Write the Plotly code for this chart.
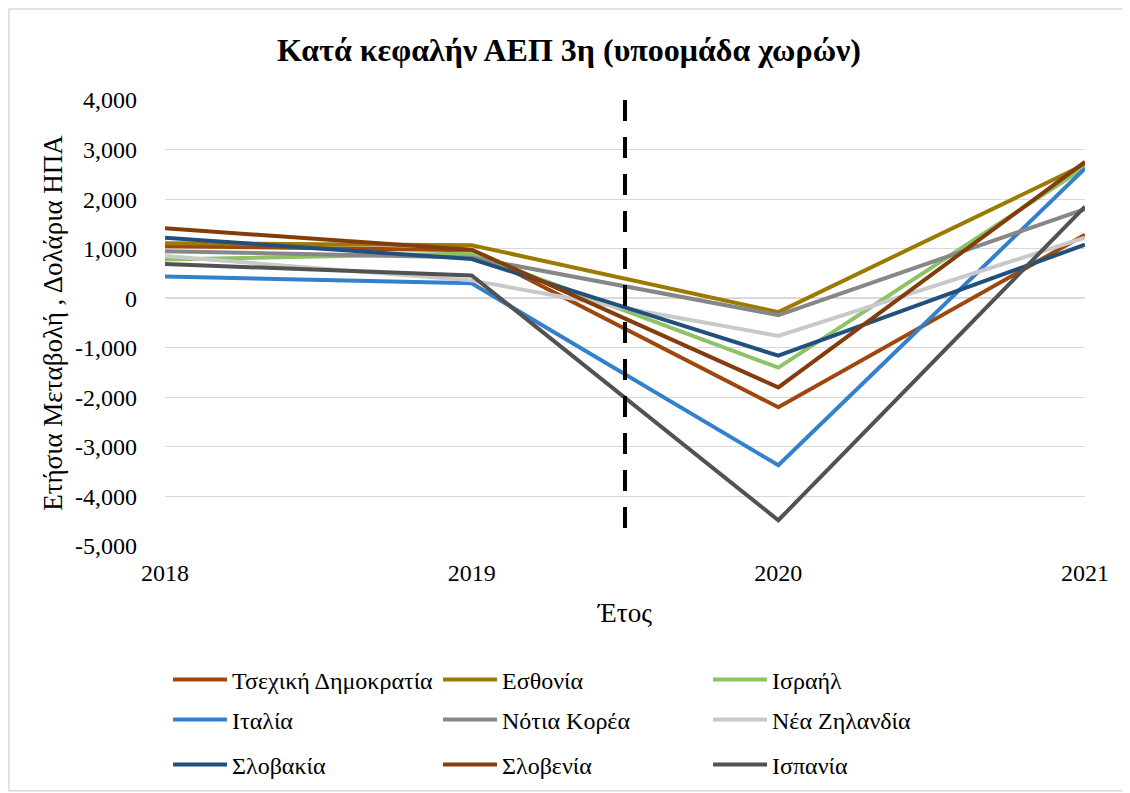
# Κατά κεφαλήν ΑΕΠ 3η - line chart of yearly change per country
import plotly.graph_objects as go

years = [2018, 2019, 2020, 2021]

countries = ["Τσεχική Δημοκρατία", "Εσθονία", "Ισραήλ",
             "Ιταλία", "Νότια Κορέα", "Νέα Ζηλανδία",
             "Σλοβακία", "Σλοβενία", "Ισπανία"]

czech = [1050, 970, -2200, 1280]
estonia = [1110, 1070, -280, 2700]
israel = [780, 900, -1400, 2640]
italy = [440, 300, -3370, 2620]
korea = [950, 820, -340, 1800]
nz = [850, 360, -760, 1220]
slovakia = [1220, 790, -1160, 1080]
slovenia = [1410, 980, -1800, 2750]
spain = [690, 460, -4480, 1850]

values = [czech, estonia, israel, italy, korea, nz, slovakia, slovenia, spain]
colors = ["#9E480E", "#9C7A00", "#8DC266", "#3380CC", "#878787",
          "#C9C9C9", "#22507E", "#843C0C", "#525252"]

y_ticks = [4000, 3000, 2000, 1000, 0, -1000, -2000, -3000, -4000, -5000]
y_ticktext = ["4,000", "3,000", "2,000", "1,000", "0", "-1,000",
              "-2,000", "-3,000", "-4,000", "-5,000"]

covid_x = 2019.5
covid_top = 4000
covid_bottom = -4720

serif = "Liberation Serif"

fig = go.Figure()

legend_names = ["legend", "legend2", "legend3"]
for i in range(len(countries)):
    fig.add_trace(go.Scatter(
        x=years,
        y=values[i],
        mode="lines",
        name=countries[i],
        line=dict(color=colors[i], width=4),
        legend=legend_names[i // 3],
    ))

fig.add_shape(type="line", xref="x", yref="y",
              x0=covid_x, x1=covid_x, y0=covid_top, y1=covid_bottom,
              line=dict(color="black", width=4, dash="21px,16px"))

# light border round the whole chart
fig.add_shape(type="rect", xref="paper", yref="paper",
              x0=-0.1696, x1=1.0446, y0=-0.549, y1=1.204,
              line=dict(color="#D9D9D9", width=1.5), layer="below")

legend_style = dict(orientation="h", x=0.0033, xanchor="left", yanchor="middle",
                    font=dict(family=serif, size=24, color="black"),
                    entrywidth=201, entrywidthmode="pixels",
                    bgcolor="rgba(0,0,0,0)", itemwidth=54)

fig.update_layout(
    width=1122, height=785,
    margin=dict(l=157, r=45, t=92, b=247, autoexpand=False),
    paper_bgcolor="white", plot_bgcolor="white",
    font=dict(family=serif, size=24, color="black"),
    title=dict(text="<b>Κατά κεφαλήν ΑΕΠ 3η (υποομάδα χωρών)</b>",
               x=0.5, xref="container", xanchor="center",
               y=0.9465, yref="container", yanchor="middle",
               font=dict(family=serif, size=32, color="black")),
    xaxis=dict(range=[2018, 2021], tickvals=years, ticktext=[str(y) for y in years],
               showgrid=False, zeroline=False, showline=False,
               ticks="", ticklabelstandoff=10,
               tickfont=dict(family=serif, size=24, color="black"),
               title=dict(text="Έτος", font=dict(family=serif, size=27, color="black"),
                          standoff=18)),
    yaxis=dict(range=[-5000, 4000], tickvals=y_ticks, ticktext=y_ticktext,
               showgrid=True, gridcolor="#D9D9D9", gridwidth=1,
               zeroline=True, zerolinecolor="#D9D9D9", zerolinewidth=1.5,
               showline=False, ticks="", ticklabelstandoff=27,
               tickfont=dict(family=serif, size=24, color="black"),
               title=dict(text="Ετήσια Μεταβολή , Δολάρια ΗΠΑ",
                          font=dict(family=serif, size=27, color="black"), standoff=4)),
    legend=dict(legend_style, y=-0.3005),
    legend2=dict(legend_style, y=-0.390),
    legend3=dict(legend_style, y=-0.491),
)

fig.write_html("out.html")
